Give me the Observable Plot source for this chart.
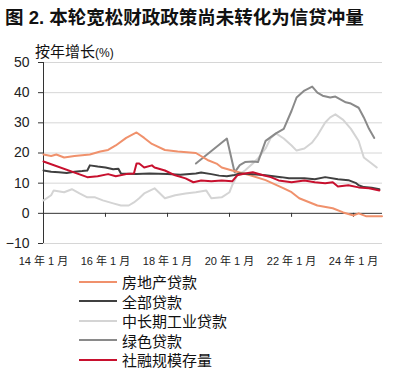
<!DOCTYPE html>
<html>
<head>
<meta charset="utf-8">
<script src="https://cdn.jsdelivr.net/npm/d3@7"></script>
<script src="https://cdn.jsdelivr.net/npm/@observablehq/plot@0.6"></script>
<style>
  html, body { margin: 0; padding: 0; background: #fff; }
  body { width: 395px; height: 376px; position: relative; overflow: hidden;
         font-family: "Liberation Sans", "Noto Sans CJK SC", sans-serif; color: #111; }
  #title { position: absolute; left: 5px; top: 3px; font-size: 18.5px; font-weight: bold; white-space: nowrap;
           font-family: "Liberation Sans", "Noto Sans CJK SC", sans-serif; }
  #subtitle { position: absolute; left: 35px; top: 40px; font-size: 15px; white-space: nowrap; z-index: 2; }
  #subtitle small { font-size: 12px; }
  #chart { position: absolute; left: 0; top: 55px; z-index: 1; }
  #legend { position: absolute; left: 79px; top: 272px; }
  .row { display: flex; align-items: center; height: 19.5px; font-size: 15px; }
  .sw { width: 38px; height: 2px; margin-right: 5px; }
</style>
</head>
<body>
<div id="title">图 2. 本轮宽松财政政策尚未转化为信贷冲量</div>
<div id="subtitle">按年增长<small>(%)</small></div>
<div id="chart"></div>
<div id="legend"></div>
<script>
const seriesNames = ["房地产贷款", "全部贷款", "中长期工业贷款", "绿色贷款", "社融规模存量"];
const seriesColors = ["#f0916c", "#404040", "#d4d4d4", "#8a8a8a", "#c8102e"];

const realEstate = [
  ["2014-01",19.5],["2014-04",19],["2014-06",19.5],["2014-09",18.5],["2015-01",19],["2015-07",19.5],
  ["2015-11",20.5],["2016-02",21],["2016-05",22.5],["2016-09",25],["2017-01",26.8],["2017-04",25],
  ["2017-07",23],["2017-12",21],["2018-05",20.5],["2018-12",20],["2019-05",17.5],["2019-08",16.5],
  ["2019-10",15.2],["2020-02",14.2],["2020-09",12.6],["2021-03",11],["2021-10",8.3],["2022-01",7],
  ["2022-04",5],["2022-11",2.6],["2023-05",1.7],["2023-09",0.3],["2024-01",-0.7],["2024-03",0],
  ["2024-06",-1],["2024-09",-1],["2024-12",-1]
];
const totalLoans = [
  ["2014-01",14.2],["2014-04",13.8],["2014-07",13.6],["2014-10",13.4],["2015-01",13.8],["2015-04",14],
  ["2015-06",14.2],["2015-07",15.9],["2015-10",15.5],["2016-01",15.2],["2016-04",14.6],["2016-06",14.8],
  ["2016-07",13.2],["2017-01",13],["2017-06",13.2],["2018-01",13],["2018-06",12.8],["2018-12",13.2],
  ["2019-02",13.5],["2019-06",13],["2019-09",12.5],["2019-12",12.3],["2020-03",12.7],["2020-05",13.2],
  ["2020-09",13],["2021-03",12.6],["2021-06",12.3],["2021-09",12],["2021-12",11.6],["2022-06",11.6],
  ["2022-10",11.3],["2023-02",12],["2023-07",11.3],["2023-11",11],["2024-02",10],["2024-03",9.3],
  ["2024-05",8.7],["2024-08",8.5],["2024-11",8]
];
const midLongIndustrial = [
  ["2014-01",4.3],["2014-04",6],["2014-05",7.6],["2014-09",7],["2014-12",8],["2015-03",6.6],
  ["2015-06",5.3],["2015-09",5.3],["2015-12",4.3],["2016-04",3.3],["2016-07",2.6],["2016-10",2.6],
  ["2016-12",3.6],["2017-02",5],["2017-04",6.6],["2017-08",8.3],["2017-12",5],["2018-04",6],
  ["2018-08",6.6],["2018-12",7],["2019-04",7.6],["2019-06",5],["2019-10",5.3],["2020-01",7],
  ["2020-02",9.3],["2020-04",12.6],["2020-07",14.2],["2020-10",16.5],["2020-12",18.2],["2021-03",21.5],
  ["2021-05",25],["2021-07",26.5],["2021-10",24.8],["2022-01",22.5],["2022-03",20.8],["2022-06",21.5],
  ["2022-09",23.5],["2022-11",25.8],["2023-02",30.1],["2023-04",31.8],["2023-06",32.8],["2023-09",31],
  ["2023-12",28],["2024-03",24],["2024-05",18.5],["2024-08",16.5],["2024-10",15.2]
];
const greenLoans = [
  ["2018-12",16.5],["2019-12",24.8],["2020-03",13.6],["2020-05",16],["2020-07",17],["2020-10",17.2],
  ["2020-12",17],["2021-03",24],["2021-07",26.5],["2021-10",28],["2022-01",34],["2022-03",38.4],
  ["2022-06",40.7],["2022-09",42],["2022-11",40],["2023-01",39],["2023-04",38.4],["2023-06",38.7],
  ["2023-10",36.8],["2023-12",36.4],["2024-03",35],["2024-05",31.8],["2024-07",28],["2024-09",25]
];
const tsfStock = [
  ["2014-01",17.2],["2015-06",12],["2015-10",12.3],["2016-02",13],["2016-05",12.3],["2016-09",13],
  ["2016-12",13.2],["2017-01",16.5],["2017-02",16.5],["2017-04",15.2],["2017-07",15.9],["2017-08",15.2],
  ["2017-12",14.2],["2018-04",12.6],["2018-08",11.6],["2018-11",10.3],["2019-02",10.9],["2019-06",10.6],
  ["2019-10",10.9],["2020-02",10.6],["2020-04",12.6],["2020-07",13.2],["2020-10",13.6],["2021-02",12.6],
  ["2021-05",12],["2021-08",10.9],["2022-01",10.3],["2022-06",10.9],["2022-10",10.3],["2023-02",10],
  ["2023-05",10.3],["2023-07",8.9],["2023-11",9.3],["2024-03",8.6],["2024-07",8.3],["2024-11",7.6]
];
const xTickLabels = ["2014-01","2016-01","2018-01","2020-01","2022-01","2024-01"];
const yTicks = [-10, 0, 10, 20, 30, 40, 50];

const parse = d3.utcParse("%Y-%m");
const allSeries = [realEstate, totalLoans, midLongIndustrial, greenLoans, tsfStock];
const rows = allSeries.flatMap((s, i) => s.map(([d, v]) => ({date: parse(d), value: v, series: seriesNames[i]})));
const xTicks = xTickLabels.map(parse);
const drawOrder = ["中长期工业贷款", "绿色贷款", "房地产贷款", "全部贷款", "社融规模存量"];
const colorOf = Object.fromEntries(seriesNames.map((n, i) => [n, seriesColors[i]]));

const chart = Plot.plot({
  width: 395, height: 220,
  marginLeft: 43, marginRight: 13, marginTop: 7, marginBottom: 32,
  style: {fontFamily: '"Liberation Sans", "Noto Sans CJK SC", sans-serif', background: "transparent", color: "#222"},
  x: {type: "utc", domain: [parse("2014-01"), new Date(Date.UTC(2024, 11, 7))]},
  y: {type: "linear", domain: [-10, 50]},
  marks: [
    Plot.gridY(yTicks.filter(d => d !== 0), {stroke: "#d6d6d6", strokeOpacity: 1}),
    Plot.ruleY([0], {stroke: "#333"}),
    Plot.ruleX(xTicks, {x: d => d, y1: 0, y2: 0, insetBottom: -4, stroke: "#333"}),
    Plot.ruleX([parse("2014-01")], {stroke: "#333"}),
    Plot.axisY({ticks: yTicks, tickSize: 5, tickPadding: 9, fontSize: 14, label: null, stroke: "#333"}),
    Plot.axisX({ticks: xTicks, tickSize: 0, tickPadding: 14, fontSize: 11, label: null,
      tickFormat: d => `${String(d.getUTCFullYear()).slice(2)} 年 1 月`}),
    ...drawOrder.map(name => Plot.line(rows.filter(r => r.series === name),
      {x: "date", y: "value", stroke: colorOf[name], strokeWidth: 2, curve: "linear"}))
  ]
});
document.getElementById("chart").appendChild(chart);

const legend = document.getElementById("legend");
seriesNames.forEach((n, i) => {
  const row = document.createElement("div");
  row.className = "row";
  row.innerHTML = `<div class="sw" style="background:${seriesColors[i]}"></div><span>${n}</span>`;
  legend.appendChild(row);
});
</script>
</body>
</html>
